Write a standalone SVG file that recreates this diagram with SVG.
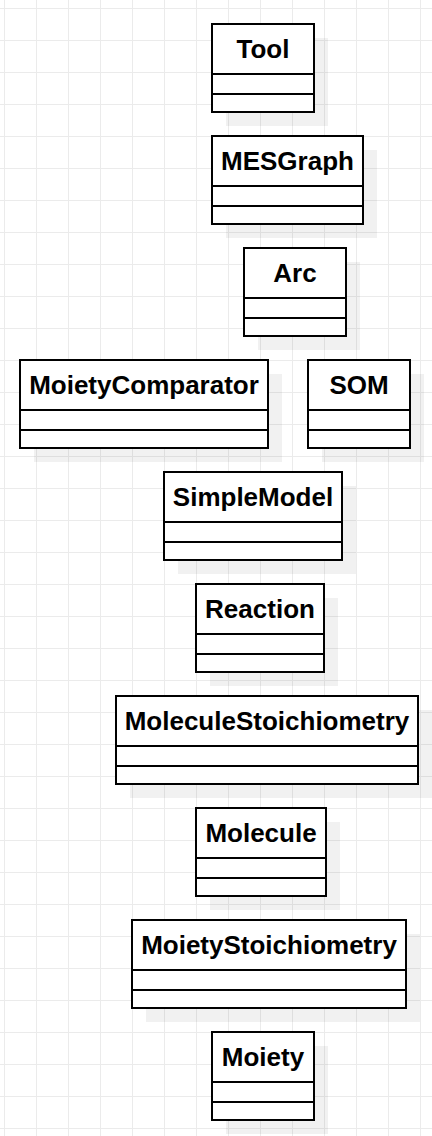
<svg xmlns="http://www.w3.org/2000/svg" width="432" height="1136" viewBox="0 0 432 1136">
  <defs>
    <pattern id="grid" patternUnits="userSpaceOnUse" x="4" y="8" width="32" height="32">
      <path d="M0 0.5 H32 M0.5 0 V32" fill="none" stroke="#ebebeb" stroke-width="1"/>
    </pattern>
  </defs>
  <style>
    .shadow { fill: #000000; fill-opacity: 0.055; stroke: none; }
    .box { fill: #ffffff; stroke: #000000; stroke-width: 2; }
    .div { stroke: #000000; stroke-width: 2; fill: none; }
    .label { font-family: "Liberation Sans", Arial, Helvetica, sans-serif; font-weight: bold; font-size: 26px; fill: #000000; text-anchor: middle; }
  </style>
  <rect x="0" y="0" width="432" height="1136" fill="#ffffff"/>
  <rect x="0" y="0" width="432" height="1136" fill="url(#grid)"/>

  <g id="Tool">
    <rect class="shadow" x="226" y="38" width="102" height="88"/>
    <rect class="box" x="212" y="24" width="102" height="88"/>
    <path class="div" d="M212 74 H314 M212 94 H314"/>
    <text class="label" x="263" y="58">Tool</text>
  </g>
  <g id="MESGraph">
    <rect class="shadow" x="226" y="150" width="151" height="88"/>
    <rect class="box" x="212" y="136" width="151" height="88"/>
    <path class="div" d="M212 186 H363 M212 206 H363"/>
    <text class="label" x="287.5" y="170">MESGraph</text>
  </g>
  <g id="Arc">
    <rect class="shadow" x="258" y="262" width="102" height="88"/>
    <rect class="box" x="244" y="248" width="102" height="88"/>
    <path class="div" d="M244 298 H346 M244 318 H346"/>
    <text class="label" x="295" y="282">Arc</text>
  </g>
  <g id="MoietyComparator">
    <rect class="shadow" x="34" y="374" width="248" height="88"/>
    <rect class="box" x="20" y="360" width="248" height="88"/>
    <path class="div" d="M20 410 H268 M20 430 H268"/>
    <text class="label" x="144" y="394">MoietyComparator</text>
  </g>
  <g id="SOM">
    <rect class="shadow" x="322" y="374" width="102" height="88"/>
    <rect class="box" x="308" y="360" width="102" height="88"/>
    <path class="div" d="M308 410 H410 M308 430 H410"/>
    <text class="label" x="359" y="394">SOM</text>
  </g>
  <g id="SimpleModel">
    <rect class="shadow" x="178" y="486" width="178" height="88"/>
    <rect class="box" x="164" y="472" width="178" height="88"/>
    <path class="div" d="M164 522 H342 M164 542 H342"/>
    <text class="label" x="253" y="506">SimpleModel</text>
  </g>
  <g id="Reaction">
    <rect class="shadow" x="210" y="598" width="128" height="88"/>
    <rect class="box" x="196" y="584" width="128" height="88"/>
    <path class="div" d="M196 634 H324 M196 654 H324"/>
    <text class="label" x="260" y="618">Reaction</text>
  </g>
  <g id="MoleculeStoichiometry">
    <rect class="shadow" x="130" y="710" width="302" height="88"/>
    <rect class="box" x="116" y="696" width="302" height="88"/>
    <path class="div" d="M116 746 H418 M116 766 H418"/>
    <text class="label" x="267" y="730">MoleculeStoichiometry</text>
  </g>
  <g id="Molecule">
    <rect class="shadow" x="210" y="822" width="130" height="88"/>
    <rect class="box" x="196" y="808" width="130" height="88"/>
    <path class="div" d="M196 858 H326 M196 878 H326"/>
    <text class="label" x="261" y="842">Molecule</text>
  </g>
  <g id="MoietyStoichiometry">
    <rect class="shadow" x="146" y="934" width="274" height="88"/>
    <rect class="box" x="132" y="920" width="274" height="88"/>
    <path class="div" d="M132 970 H406 M132 990 H406"/>
    <text class="label" x="269" y="954">MoietyStoichiometry</text>
  </g>
  <g id="Moiety">
    <rect class="shadow" x="226" y="1046" width="102" height="88"/>
    <rect class="box" x="212" y="1032" width="102" height="88"/>
    <path class="div" d="M212 1082 H314 M212 1102 H314"/>
    <text class="label" x="263" y="1066">Moiety</text>
  </g>
</svg>
